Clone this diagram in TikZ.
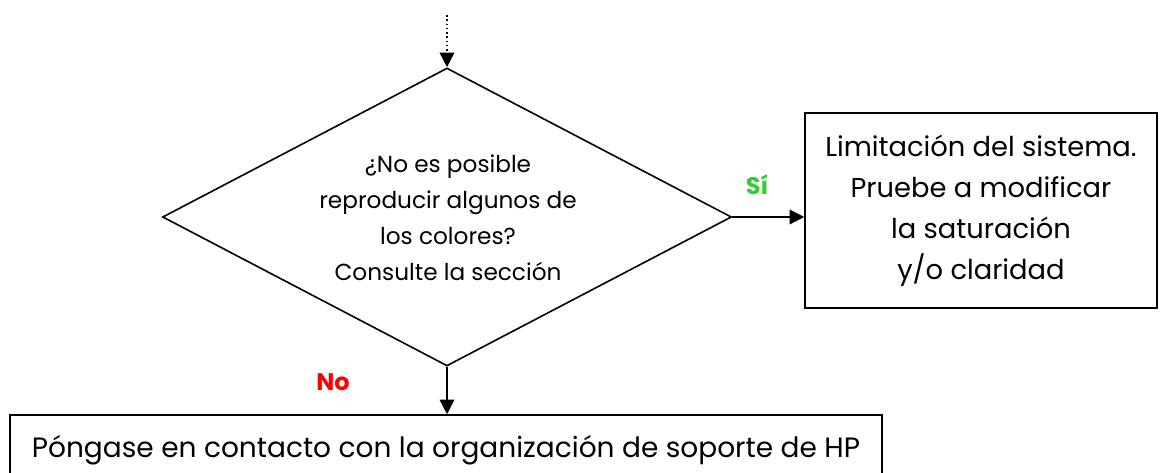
\documentclass[tikz,border=0pt]{standalone}
\usepackage{fontspec}
\setmainfont{Poppins}
\usetikzlibrary{shapes.geometric,arrows.meta}

\begin{document}
\begin{tikzpicture}[x=0.75pt,y=-0.75pt,
    box/.style={draw, line width=1.2pt, align=center, inner sep=0pt},
    arr/.style={-{Triangle[length=11pt,width=11pt]}, line width=1.2pt},
    bigtxt/.style={font=\fontsize{20.5}{30.75}\selectfont},
    smalltxt/.style={font=\fontsize{17.4}{27}\selectfont},
    answer/.style={font=\fontsize{18}{22}\selectfont\bfseries}]
    \useasboundingbox (0,0) rectangle (1160,473);
    \coordinate (start) at (447,15);
    \node[box, diamond, minimum width=426.75pt, minimum height=223.5pt] (quest) at (447,217) {};
    \node[smalltxt, align=center] (questtxt) at (448,218) {¿No es posible\\reproducir algunos de\\los colores?\\Consulte la sección};
    \node[box, bigtxt, minimum width=264pt, minimum height=146.25pt] (limit) at (981,210.5) {Limitación del sistema.\\Pruebe a modificar\\la saturación\\y/o claridad};
    \node[box, font=\fontsize{21}{30.75}\selectfont, minimum width=654pt, minimum height=52.5pt] (support) at (446,450) {Póngase en contacto con la organización de soporte de HP};
    \draw[arr, dotted] (start) -- (quest.north);
    \draw[arr] (quest.east) -- (quest.east -| limit.west);
    \draw[arr] (quest.south) -- (quest.south |- support.north);
    \node[answer, text={rgb,255:red,51;green,204;blue,51}] (yes) at (757,185) {Sí};
    \node[answer, text=red] (no) at (333,382) {No};
\end{tikzpicture}
\end{document}
